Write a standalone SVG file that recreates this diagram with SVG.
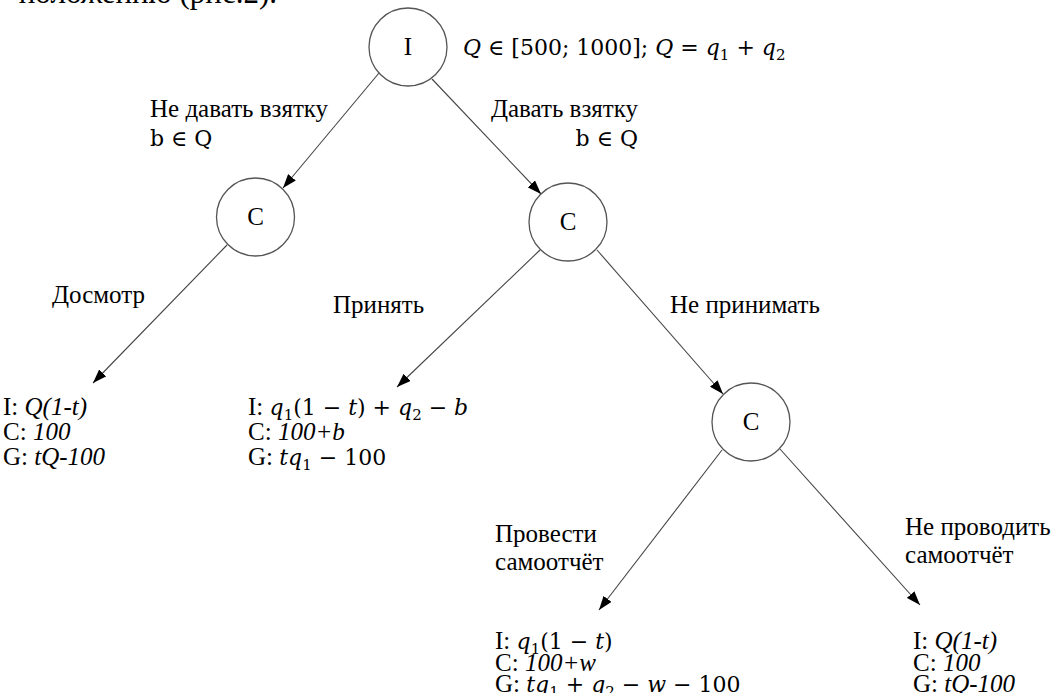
<svg xmlns="http://www.w3.org/2000/svg" width="1057" height="693" viewBox="0 0 1057 693">
<defs>
<marker id="arr" viewBox="0 0 14 10" refX="14" refY="5" markerWidth="14" markerHeight="10" markerUnits="userSpaceOnUse" orient="auto">
<path d="M0,0 L14,5 L0,10 z" fill="#000"/>
</marker>
<style>
.t{font-family:"Liberation Serif","Times New Roman",serif;font-size:25px;fill:#000}
.m{font-family:"DejaVu Serif","Liberation Serif",serif;font-size:22px;fill:#000}
.i{font-style:italic}
.s{font-size:15px}
.n{fill:#fff;stroke:#555;stroke-width:1.3}
.e{stroke:#444;stroke-width:1.1;fill:none;marker-end:url(#arr)}
</style>
</defs>
<rect width="1057" height="693" fill="#fff"/>
<text class="t" x="277" y="3" text-anchor="end" style="font-size:31px">положению (рис.2).</text>

<g id="edges">
<line class="e" x1="379" y1="73" x2="283" y2="188"/>
<line class="e" x1="432" y1="79" x2="541" y2="194"/>
<line class="e" x1="227" y1="245" x2="93" y2="383"/>
<line class="e" x1="540" y1="250" x2="397" y2="387"/>
<line class="e" x1="597" y1="250" x2="723" y2="394"/>
<line class="e" x1="722" y1="450" x2="599" y2="610"/>
<line class="e" x1="780" y1="449" x2="920" y2="605"/>
</g>

<g id="node-I">
<circle class="n" cx="408" cy="47" r="39"/>
<text class="t" x="408" y="55" text-anchor="middle">I</text>
<text class="m" x="463" y="55"><tspan class="i">Q</tspan> ∈ [500; 1000]; <tspan class="i">Q</tspan> = <tspan class="i">q</tspan><tspan class="s" dy="5">1</tspan><tspan dy="-5"> + </tspan><tspan class="i">q</tspan><tspan class="s" dy="5">2</tspan></text>
</g>

<g id="label-no-bribe">
<text class="t" x="150" y="117">Не давать взятку</text>
<text class="m" x="150" y="146">b ∈ Q</text>
</g>
<g id="label-bribe">
<text class="t" x="638" y="117" text-anchor="end">Давать взятку</text>
<text class="m" x="638" y="146" text-anchor="end">b ∈ Q</text>
</g>

<g id="node-C1">
<circle class="n" cx="255.5" cy="217" r="39"/>
<text class="t" x="255.5" y="225" text-anchor="middle">C</text>
</g>
<g id="node-C2">
<circle class="n" cx="568" cy="222" r="39"/>
<text class="t" x="568" y="230" text-anchor="middle">C</text>
</g>
<g id="node-C3">
<circle class="n" cx="751" cy="422" r="39"/>
<text class="t" x="751" y="430" text-anchor="middle">C</text>
</g>

<g id="labels-mid">
<text class="t" x="52" y="303">Досмотр</text>
<text class="t" x="333" y="313">Принять</text>
<text class="t" x="670" y="313">Не принимать</text>
<text class="t" x="495" y="542">Провести</text>
<text class="t" x="495" y="570">самоотчёт</text>
<text class="t" x="905" y="535">Не проводить</text>
<text class="t" x="905" y="563">самоотчёт</text>
</g>

<g id="leaf-1">
<text class="t" x="3" y="415">I: <tspan class="i">Q(1-t)</tspan></text>
<text class="t" x="3" y="440">C: <tspan class="i">100</tspan></text>
<text class="t" x="3" y="465">G: <tspan class="i">tQ-100</tspan></text>
</g>
<g id="leaf-2">
<text class="t" x="248" y="415">I: <tspan class="m"><tspan class="i">q</tspan><tspan class="s" dy="5">1</tspan><tspan dy="-5">(1 − </tspan><tspan class="i">t</tspan>) + <tspan class="i">q</tspan><tspan class="s" dy="5">2</tspan><tspan dy="-5"> − </tspan><tspan class="i">b</tspan></tspan></text>
<text class="t" x="248" y="440">C: <tspan class="i">100+b</tspan></text>
<text class="t" x="248" y="465">G: <tspan class="m"><tspan class="i">tq</tspan><tspan class="s" dy="5">1</tspan><tspan dy="-5"> − 100</tspan></tspan></text>
</g>
<g id="leaf-3">
<text class="t" x="495" y="649">I: <tspan class="m"><tspan class="i">q</tspan><tspan class="s" dy="5">1</tspan><tspan dy="-5">(1 − </tspan><tspan class="i">t</tspan>)</tspan></text>
<text class="t" x="495" y="671">C: <tspan class="i">100+w</tspan></text>
<text class="t" x="495" y="692">G: <tspan class="m"><tspan class="i">tq</tspan><tspan class="s" dy="5">1</tspan><tspan dy="-5"> + </tspan><tspan class="i">q</tspan><tspan class="s" dy="5">2</tspan><tspan dy="-5"> − </tspan><tspan class="i">w</tspan> − 100</tspan></text>
</g>
<g id="leaf-4">
<text class="t" x="913" y="649">I: <tspan class="i">Q(1-t)</tspan></text>
<text class="t" x="913" y="671">C: <tspan class="i">100</tspan></text>
<text class="t" x="913" y="692">G: <tspan class="i">tQ-100</tspan></text>
</g>
</svg>
